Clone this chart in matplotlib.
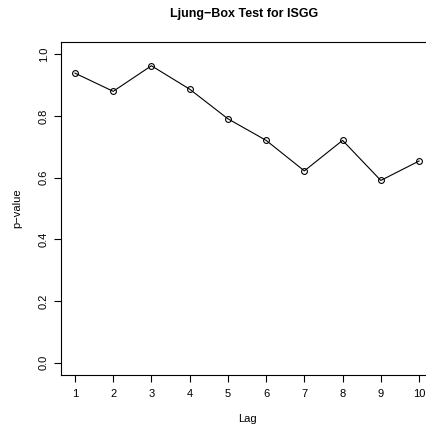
#ljung-box p-values plot, R base graphics look

import numpy as np
import matplotlib
matplotlib.use('Agg')
import matplotlib.pyplot as plt

plt.rcParams['font.family'] = ['Liberation Sans', 'DejaVu Sans']

# data
lags = [1, 2, 3, 4, 5, 6, 7, 8, 9, 10]
pvalues = [0.939, 0.880, 0.963, 0.887, 0.791, 0.721, 0.622, 0.721, 0.591, 0.654]
yticks = [0.0, 0.2, 0.4, 0.6, 0.8, 1.0]
ytick_labels = ['0.0', '0.2', '0.4', '0.6', '0.8', '1.0']

fig = plt.figure(figsize=(4.26, 4.30), dpi=100)
ax = fig.add_axes([61.2/426, 55/430, 371.6/426, 333/430])

ax.plot(lags, pvalues, color='black', linewidth=0.8, marker='o', markersize=4.2,
        markerfacecolor='none', markeredgecolor='black', markeredgewidth=0.8)

# R style 4% padding
ax.set_xlim(1 - 0.36, 10 + 0.36)
ax.set_ylim(-0.04, 1.04)

ax.set_xticks(lags)
ax.set_xticklabels([str(l) for l in lags])
ax.set_yticks(yticks)
ax.set_yticklabels(ytick_labels, rotation=90, va='center')

ax.tick_params(axis='both', length=5, width=0.8, labelsize=8, color='black')
ax.tick_params(axis='x', pad=5)
ax.tick_params(axis='y', pad=4)

for s in ax.spines.values():
    s.set_linewidth(0.8)
    s.set_color('black')

ax.set_xlabel('Lag', fontsize=8, labelpad=11)
ax.set_ylabel('p\u2212value', fontsize=8, labelpad=12)
fig.text(0.5725, 1 - 14/430, 'Ljung\u2212Box Test for ISGG', ha='center', va='center',
         fontsize=9, fontweight='bold')

plt.savefig('out.png', dpi=100)
